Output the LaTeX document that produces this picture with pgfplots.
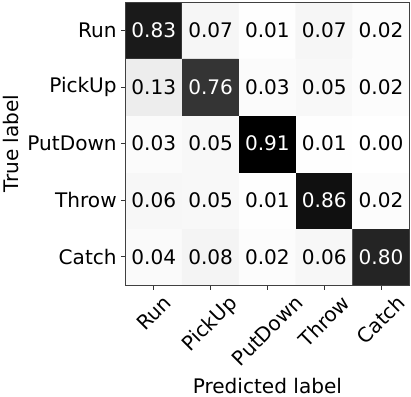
\documentclass[border=0pt]{standalone}
\usepackage{fontspec}
\setmainfont{DejaVu Sans}
\usepackage{graphicx}
\usepackage{pgfplots}
\pgfplotsset{compat=1.18}

% confusion matrix, rows listed bottom (Catch) to top (Run)
\pgfplotstableread{
x y c
0 0 0.04
1 0 0.08
2 0 0.02
3 0 0.06
4 0 0.80
0 1 0.06
1 1 0.05
2 1 0.01
3 1 0.86
4 1 0.02
0 2 0.03
1 2 0.05
2 2 0.91
3 2 0.01
4 2 0.00
0 3 0.13
1 3 0.76
2 3 0.03
3 3 0.05
4 3 0.02
0 4 0.83
1 4 0.07
2 4 0.01
3 4 0.07
4 4 0.02
}\cmdata

\newcommand\bigf{\fontsize{20}{24}\selectfont}

\begin{document}
\begin{tikzpicture}
\begin{axis}[
    width=283pt, height=282pt, scale only axis,
    xmin=-0.5, xmax=4.5, ymin=-0.5, ymax=4.5,
    enlargelimits=false,
    axis on top,
    xtick={0,1,2,3,4}, ytick={0,1,2,3,4},
    xticklabels={\rotatebox{45}{Run},\rotatebox{45}{PickUp},\rotatebox{45}{PutDown},\rotatebox{45}{Throw},\rotatebox{45}{Catch}},
    yticklabels={Catch,Throw,PutDown,PickUp,Run},
    tick label style={font=\bigf},
    label style={font=\bigf},
    xticklabel style={anchor=north, inner sep=4pt},
    yticklabel style={anchor=east, inner sep=4pt},
    xtick pos=bottom, ytick pos=left,
    tick align=outside, major tick length=4.5pt,
    tick style={black!80, line width=0.8pt},
    axis line style={black!75, line width=0.8pt},
    xlabel={Predicted label}, ylabel={True label},
    xlabel style={yshift=-3pt},
    ylabel style={yshift=1pt},
    colormap={greys}{rgb255=(255,255,255) rgb255=(240,240,240) rgb255=(217,217,217)
        rgb255=(189,189,189) rgb255=(150,150,150) rgb255=(115,115,115)
        rgb255=(82,82,82) rgb255=(37,37,37) rgb255=(0,0,0)},
    point meta min=0, point meta max=0.91,
    /pgf/number format/assume math mode=true,
]
\addplot[matrix plot*, mesh/cols=5, point meta=explicit,
    nodes near coords={\ifdim\pgfplotspointmetatransformed pt>500pt\color{white}\else\color{black}\fi
        \pgfmathprintnumber[fixed,zerofill,precision=2]{\pgfplotspointmeta}},
    every node near coord/.append style={anchor=center, font=\bigf},
] table[meta=c] {\cmdata};
\end{axis}
% small margin above the frame, as in the reference
\path ([yshift=2pt]current axis.north);
\end{tikzpicture}
\end{document}
